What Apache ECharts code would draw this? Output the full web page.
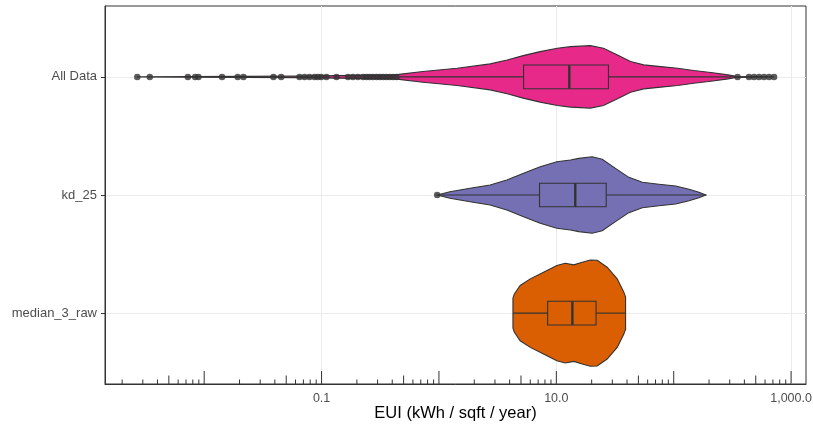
<!DOCTYPE html>
<html>
<head>
<meta charset="utf-8">
<script src="https://cdn.jsdelivr.net/npm/echarts@6/dist/echarts.min.js"></script>
<style>
html, body { margin: 0; padding: 0; background: #fff; }
#chart { width: 813px; height: 426px; }
</style>
</head>
<body>
<div id="chart"></div>
<script>
// categories, top to bottom
var categories = ["All Data", "kd_25", "median_3_raw"];
var fills = ["#E7298A", "#7570B3", "#D95F02"];

// violin outlines: EUI along the axis, width as share of the category band
var allDataEui = [0.00267, 0.0649, 0.421, 0.73, 1.43, 2.73, 3.81, 5.22, 7.29, 10.2, 13.2, 19.5, 25.2, 33.2, 42.9, 55.5, 77.4, 108, 148, 207, 290, 339, 716];
var allDataWidth = [0, 0.012, 0.034, 0.09, 0.147, 0.22, 0.287, 0.36, 0.428, 0.485, 0.512, 0.529, 0.485, 0.372, 0.259, 0.203, 0.174, 0.147, 0.107, 0.073, 0.034, 0.01, 0];

var kd25Eui = [0.966, 1.24, 1.84, 2.73, 3.79, 5.26, 7.29, 10.1, 13.2, 15.5, 20.2, 24.6, 31.9, 41.5, 54.0, 74.8, 104, 135, 164, 188];
var kd25Width = [0, 0.056, 0.113, 0.169, 0.254, 0.367, 0.478, 0.563, 0.592, 0.62, 0.647, 0.604, 0.451, 0.299, 0.215, 0.181, 0.152, 0.096, 0.046, 0];

var median3Eui = [4.27, 4.38, 4.92, 6.0, 7.78, 10.1, 11.9, 14.1, 16.6, 19.5, 22.3, 27.1, 33.0, 37.6, 38.9];
var median3Width = [0.254, 0.321, 0.468, 0.58, 0.693, 0.806, 0.845, 0.817, 0.862, 0.9, 0.895, 0.778, 0.58, 0.355, 0.27];

// box stats: low whisker, q1, median, q3, high whisker
var allDataBox = [0.44, 5.26, 12.9, 27.8, 339];
var kd25Box = [1.02, 7.19, 14.5, 26.6, 188];
var median3Box = [4.27, 8.43, 13.7, 21.8, 38.9];

// outlier points
var allDataOutliers = [0.00269, 0.00344, 0.00726, 0.00838, 0.00893, 0.0142, 0.0193, 0.0216, 0.0389, 0.0453,
  0.0649, 0.0716, 0.0789, 0.0871, 0.0929, 0.0993, 0.11, 0.134, 0.168, 0.185, 0.204, 0.226, 0.241, 0.257,
  0.274, 0.294, 0.313, 0.334, 0.357, 0.381, 0.407, 0.435, 350, 438, 483, 533, 588, 649, 716];
var kd25Outliers = [0.966];
var median3Outliers = [];

// x axis tick labels and log ticks
var xTickValues = [0.1, 10, 1000];
var logDecades = [-3, -2, -1, 0, 1, 2, 3];
var logMultipliers = [1, 2, 3, 4, 5, 6, 7, 8, 9];

var violinEui = [allDataEui, kd25Eui, median3Eui];
var violinWidth = [allDataWidth, kd25Width, median3Width];
var boxes = [allDataBox, kd25Box, median3Box];
var outliers = [allDataOutliers, kd25Outliers, median3Outliers];

var xMin = -2.845, xMax = 3.127;
var boxWidth = 0.2;
var lineColor = "#333333";

function makeRender(idx) {
  return function (params, api) {
    var pos = idx + 1;
    var euis = violinEui[idx], widths = violinWidth[idx];
    var top = [], bottom = [];
    for (var i = 0; i < euis.length; i++) {
      var lx = Math.log10(euis[i]);
      top.push(api.coord([lx, pos - widths[i] / 2]));
      bottom.unshift(api.coord([lx, pos + widths[i] / 2]));
    }
    var b = boxes[idx];
    var c = function (v, d) { return api.coord([Math.log10(v), pos + d]); };
    var q1t = c(b[1], -boxWidth / 2), q3b = c(b[3], boxWidth / 2);
    var mt = c(b[2], -boxWidth / 2), mb = c(b[2], boxWidth / 2);
    var lw = c(b[0], 0), q1m = c(b[1], 0), q3m = c(b[3], 0), hw = c(b[4], 0);
    return {
      type: "group",
      children: [
        { type: "polygon", shape: { points: top.concat(bottom) },
          style: { fill: fills[idx], stroke: lineColor, lineWidth: 1.1 } },
        { type: "line", shape: { x1: lw[0], y1: lw[1], x2: q1m[0], y2: q1m[1] },
          style: { stroke: lineColor, lineWidth: 1.1 } },
        { type: "line", shape: { x1: q3m[0], y1: q3m[1], x2: hw[0], y2: hw[1] },
          style: { stroke: lineColor, lineWidth: 1.1 } },
        { type: "rect", shape: { x: q1t[0], y: q1t[1], width: q3b[0] - q1t[0], height: q3b[1] - q1t[1] },
          style: { fill: fills[idx], stroke: lineColor, lineWidth: 1.1 } },
        { type: "line", shape: { x1: mt[0], y1: mt[1], x2: mb[0], y2: mb[1] },
          style: { stroke: lineColor, lineWidth: 2.4 } }
      ]
    };
  };
}

var series = [];
for (var k = 0; k < categories.length; k++) {
  series.push({
    type: "custom",
    renderItem: makeRender(k),
    data: [[Math.log10(boxes[k][2]), k + 1]],
    silent: true,
    z: 2
  });
}

var pointData = [];
outliers.forEach(function (list, k) {
  list.forEach(function (v) { pointData.push([Math.log10(v), k + 1]); });
});
series.push({
  type: "scatter",
  data: pointData,
  symbolSize: 6.5,
  itemStyle: { color: lineColor },
  silent: true,
  z: 3
});

// annotation log ticks along the bottom, inside the panel (drawn as one group)
var logTickValues = [], logTickKinds = [];
logDecades.forEach(function (d) {
  logMultipliers.forEach(function (m) {
    var lv = d + Math.log10(m);
    if (lv > xMin && lv < xMax) {
      logTickValues.push(lv);
      logTickKinds.push(m === 1 ? "long" : (m === 5 ? "mid" : "short"));
    }
  });
});
var tickLength = { long: 13, mid: 8.5, short: 4.5 };
series.push({
  type: "custom",
  data: [[0, 3.6]],
  silent: true,
  z: 4,
  renderItem: function (params, api) {
    var children = logTickValues.map(function (lv, i) {
      var p = api.coord([lv, 3.6]);
      return { type: "line", shape: { x1: p[0], y1: p[1], x2: p[0], y2: p[1] - tickLength[logTickKinds[i]] },
        style: { stroke: lineColor, lineWidth: 1 } };
    });
    return { type: "group", children: children };
  }
});

var chart = echarts.init(document.getElementById("chart"));
chart.setOption({
  animation: false,
  backgroundColor: "#ffffff",
  textStyle: { fontFamily: "Liberation Sans, Arial, sans-serif" },
  grid: { left: 105, right: 7, top: 6, bottom: 42, outerBoundsMode: "none", containLabel: false,
    show: true, borderColor: lineColor, borderWidth: 1, backgroundColor: "transparent" },
  xAxis: {
    type: "value",
    min: xMin,
    max: xMax,
    name: "EUI (kWh / sqft / year)",
    nameLocation: "middle",
    nameGap: 21,
    nameMoveOverlap: false,
    nameTextStyle: { color: "#000", fontSize: 16.5 },
    axisLine: { show: true, onZero: false, lineStyle: { color: lineColor } },
    axisTick: { show: false, customValues: xTickValues.map(function (v) { return Math.log10(v); }) },
    axisLabel: {
      customValues: xTickValues.map(function (v) { return Math.log10(v); }),
      color: "#4D4D4D",
      fontSize: 12.5,
      margin: 8,
      formatter: function (v) {
        return Math.pow(10, v).toLocaleString("en-US", { minimumFractionDigits: 1, maximumFractionDigits: 1 });
      }
    },
    splitLine: { show: true, lineStyle: { color: "#EBEBEB", width: 1 } }
  },
  yAxis: {
    type: "value",
    inverse: true,
    min: 0.4,
    max: 3.6,
    axisLine: { show: true, onZero: false, lineStyle: { color: lineColor } },
    axisTick: { show: true, length: 4, customValues: [1, 2, 3], lineStyle: { color: lineColor } },
    axisLabel: {
      customValues: [1, 2, 3],
      color: "#4D4D4D",
      fontSize: 13,
      margin: 8,
      formatter: function (v) { return categories[Math.round(v) - 1]; }
    },
    splitLine: { show: true, lineStyle: { color: "#EBEBEB", width: 1 } }
  },
  series: series
});
</script>
</body>
</html>
